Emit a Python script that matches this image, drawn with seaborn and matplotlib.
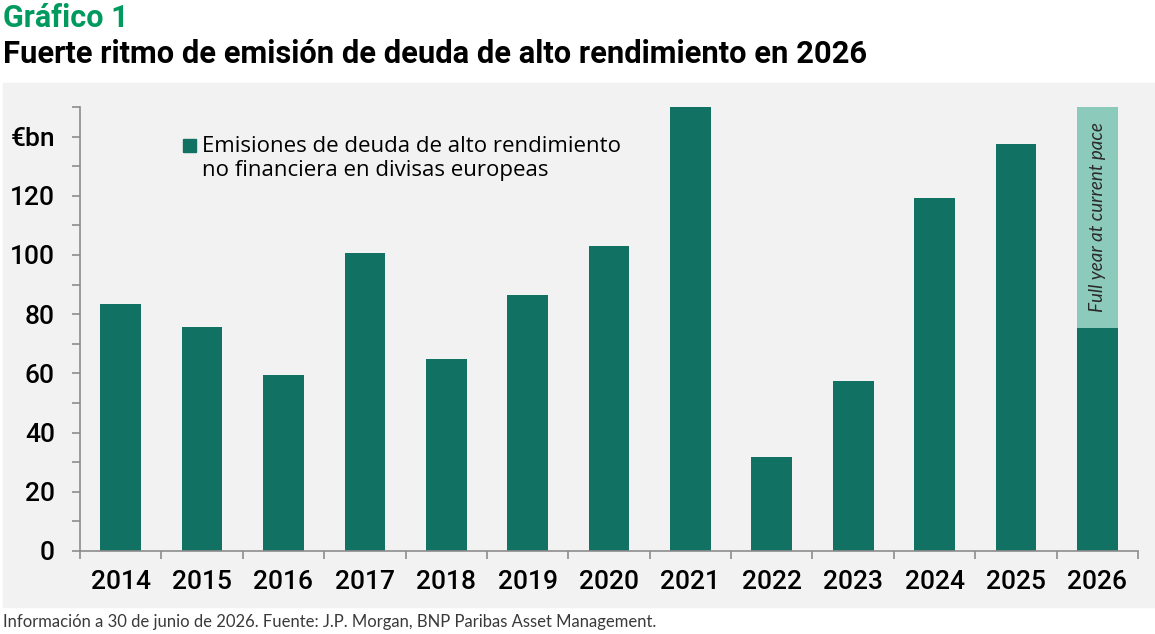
import matplotlib.pyplot as plt
import pandas as pd
import seaborn as sns
from matplotlib.legend_handler import HandlerPatch
from matplotlib.patches import Rectangle

years = [str(y) for y in range(2014, 2027)]
issued = [83.6, 75.8, 59.3, 100.8, 65.0, 86.6, 103.1, 150.5, 31.7, 57.3, 119.3, 137.5, 75.5]
full_year_years = ["2026"]
full_year = [151.0]
y_ticks = [0, 20, 40, 60, 80, 100, 120, 140]
y_labels = ["0", "20", "40", "60", "80", "100", "120", "€bn"]

DARK = "#117163"
LIGHT = "#8ccbbb"
GREEN = "#009a5e"
BG = "#f2f2f2"
AXIS = "#8c8c8c"

W, H = 1155, 634

df = pd.DataFrame({"year": years, "issued": issued})
df_full = pd.DataFrame({"year": full_year_years, "full": full_year})

fig = plt.figure(figsize=(W / 100, H / 100), dpi=100)
fig.patches.append(Rectangle((3 / W, 1 - 607 / H), (W - 3) / W, (607 - 83) / H,
                             transform=fig.transFigure, color=BG, zorder=-1))

ax = fig.add_axes([80 / W, (H - 551) / H, (1138 - 80) / W, (551 - 107) / H])
ax.set_zorder(1)
ax.set_facecolor(BG)

sns.barplot(data=df_full, x="year", y="full", order=years, color=LIGHT,
            width=0.5, saturation=1, ax=ax)
sns.barplot(data=df, x="year", y="issued", order=years, color=DARK,
            width=0.5, saturation=1, ax=ax)

ax.set_ylim(0, 150)
ax.set_xlim(-0.5, len(years) - 0.5)
ax.set_xlabel("")
ax.set_ylabel("")

for s in ["top", "right"]:
    ax.spines[s].set_visible(False)
for s in ["left", "bottom"]:
    ax.spines[s].set_color(AXIS)
    ax.spines[s].set_linewidth(1.2)

tick_font = {"family": "Roboto", "weight": "medium", "size": 19}

ax.set_yticks(range(0, 151, 10), minor=True)
ax.set_yticks(y_ticks)
ax.set_yticklabels(y_labels, **tick_font)
ax.tick_params(axis="y", which="both", length=6, width=1.2, color=AXIS, pad=12)

ax.set_xticks([i - 0.5 for i in range(len(years) + 1)], minor=True)
ax.set_xticks(range(len(years)))
ax.set_xticklabels(years, **tick_font)
ax.tick_params(axis="x", which="major", length=0, pad=14)
ax.tick_params(axis="x", which="minor", length=6, width=1.2, color=AXIS)

ax.text(len(years) - 1, (issued[-1] + 150) / 2, "Full year at current pace",
        rotation=90, ha="center", va="center", style="italic",
        family="Lato", fontsize=13.5, color="#2a2a2a")


def top_square(legend, orig_handle, xdescent, ydescent, width, height, fontsize):
    return Rectangle((-xdescent, -ydescent + 0.6 * fontsize), width, width)


handle = Rectangle((0, 0), 1, 1, color=DARK)
ax.legend([handle], ["Emisiones de deuda de alto rendimiento\nno financiera en divisas europeas"],
          loc="upper left", bbox_to_anchor=(183 / W, 1 - 136 / H),
          bbox_transform=fig.transFigure, frameon=False, borderpad=0,
          borderaxespad=0, handlelength=0.58, handleheight=0.58,
          handletextpad=0.28, prop={"family": "Open Sans", "size": 16},
          handler_map={Rectangle: HandlerPatch(patch_func=top_square)})

fig.text(3 / W, 1 - 27 / H, "Gráfico 1", color=GREEN, family="Roboto",
         weight="bold", fontsize=22, va="baseline")
fig.text(3 / W, 1 - 63 / H, "Fuerte ritmo de emisión de deuda de alto rendimiento en 2026",
         color="black", family="Roboto", weight="bold", fontsize=22.2, va="baseline")
fig.text(3 / W, 1 - 627 / H,
         "Información a 30 de junio de 2026. Fuente: J.P. Morgan, BNP Paribas Asset Management.",
         color="#3a3a3a", family="Lato", fontsize=12, va="baseline")

fig.savefig("out.png", dpi=100)
